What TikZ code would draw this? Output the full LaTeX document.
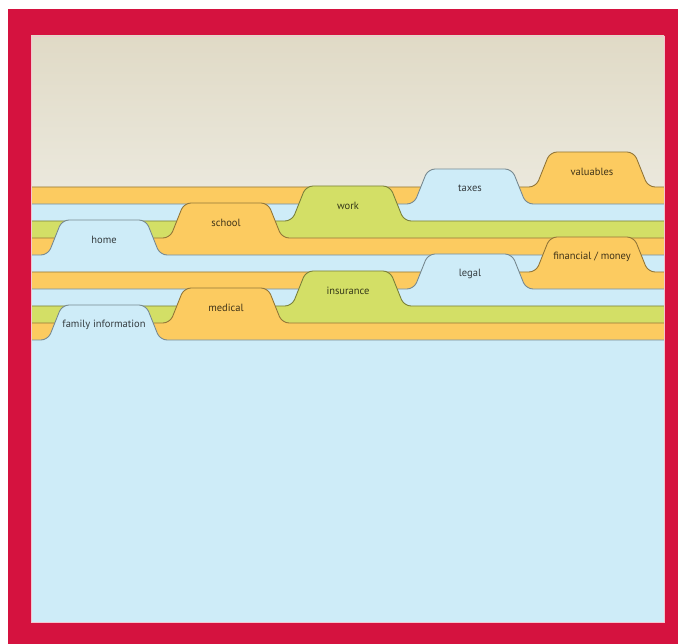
\documentclass[tikz,border=0pt]{standalone}
\usepackage{fontspec}
\setmainfont{PT Sans}
\definecolor{frame}{HTML}{D5123F}
\definecolor{beigetop}{HTML}{E0DAC6}
\definecolor{beigelow}{HTML}{F0EFE7}
\definecolor{fldorange}{HTML}{FCCB60}
\definecolor{fldblue}{HTML}{CEECF8}
\definecolor{fldgreen}{HTML}{D3DF66}
\tikzset{
  folder/.style={line width=0.9pt, rounded corners=7pt},
  tablabel/.style={inner sep=1pt, font=\fontsize{10.5}{12}\selectfont}
}
\begin{document}
\begin{tikzpicture}[x=1pt,y=-1pt]
  \def\tabw{112}
  \def\tabh{35}
  \def\slant{14}
  \def\panel{(31,36) rectangle (664,622)}

  % page and red frame
  \useasboundingbox (0,0) rectangle (678,644);
  \fill[frame] (8,9) rectangle (678,644);

  \begin{scope}
    \clip \panel;
    \shade[top color=beigetop, bottom color=beigelow] (31,36) rectangle (664,260);

    % folders, back to front
    \foreach \k/\c/\col/\txt in {0/4/fldorange/valuables, 1/3/fldblue/taxes,
        2/2/fldgreen/work, 3/1/fldorange/school, 4/0/fldblue/home,
        5/4/fldorange/{financial / money}, 6/3/fldblue/legal,
        7/2/fldgreen/insurance, 8/1/fldorange/medical,
        9/0/fldblue/family information} {
      \pgfmathsetmacro\yy{187+17*\k}
      \pgfmathsetmacro\xx{48+122*\c}
      \filldraw[folder, fill=\col, draw=\col!58!black]
        (20,\yy) -- (\xx,\yy) -- (\xx+\slant,\yy-\tabh)
        -- (\xx+\tabw-\slant,\yy-\tabh) -- (\xx+\tabw,\yy)
        -- (690,\yy) -- (690,640) -- (20,640) -- cycle;
      \node[tablabel, text=\col!25!black] (tab\k) at (\xx+\tabw/2,\yy-\tabh/2+2) {\txt};
    }
  \end{scope}
  \draw[frame!25!white, line width=0.8pt] \panel;
\end{tikzpicture}
\end{document}
